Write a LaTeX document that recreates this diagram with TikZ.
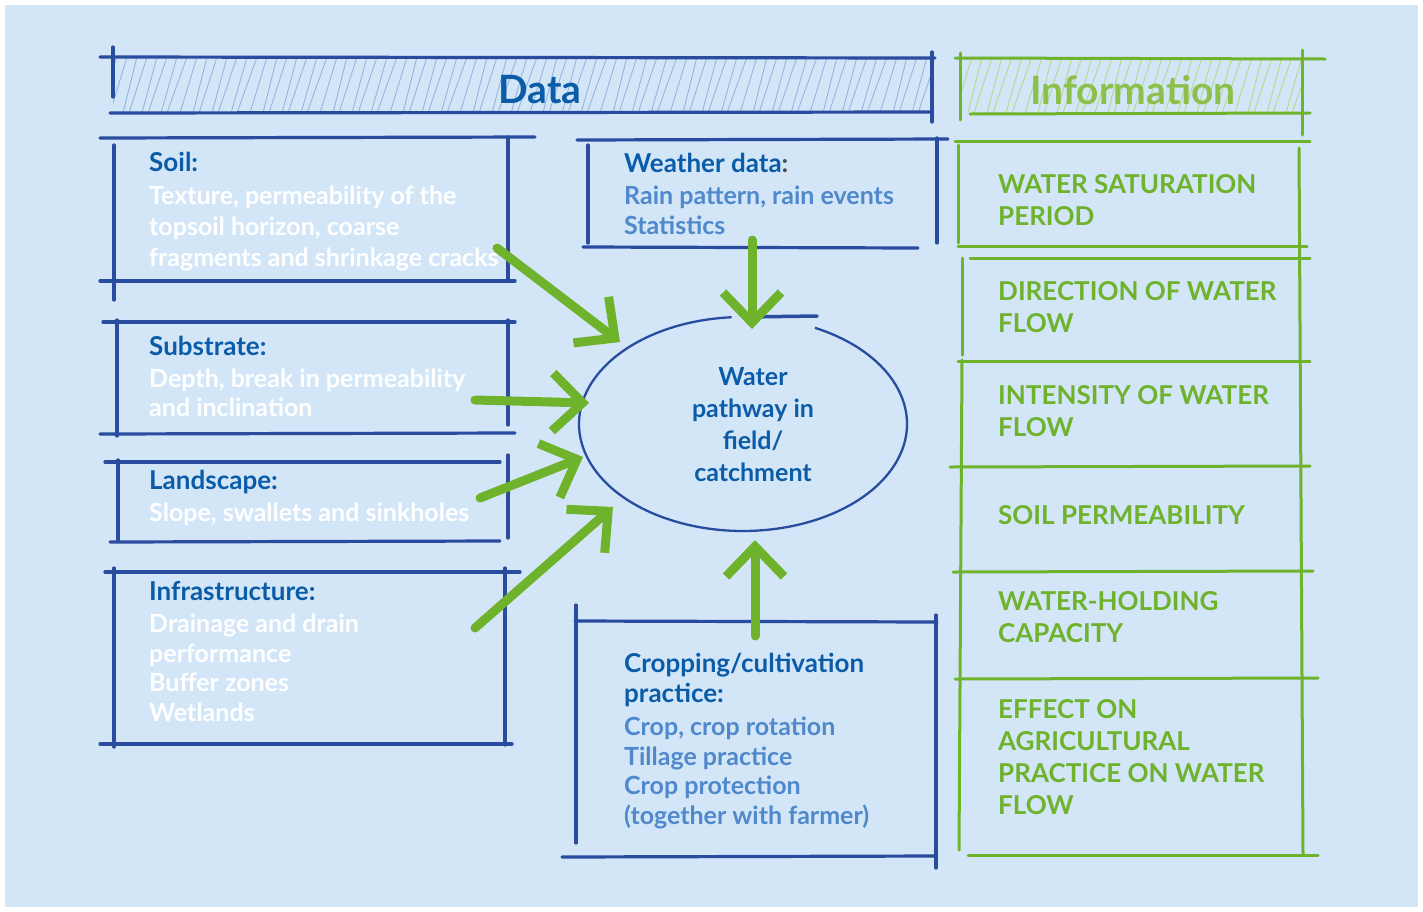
\documentclass[tikz,border=0pt]{standalone}
\usepackage{fontspec}
\setmainfont{Lato}
\usetikzlibrary{arrows.meta,shapes.geometric}
\definecolor{bg}{HTML}{D2E6F8}
\definecolor{dblue}{HTML}{0B5CA8}
\definecolor{lineblue}{HTML}{2A4C9F}
\definecolor{lblue}{HTML}{5088CC}
\definecolor{agreen}{HTML}{6FB22C}
\definecolor{lgreen}{HTML}{8CC04B}
\definecolor{hatchb}{HTML}{98B3E2}
\definecolor{hatchg}{HTML}{B2D98C}
\newcommand{\hd}[1]{{\fontsize{26}{31}\selectfont\color{dblue}#1}}
\newcommand{\bw}[1]{{\color{white}#1}}
\newcommand{\bb}[1]{{\color{lblue}#1}}
\begin{document}
\begin{tikzpicture}[x=1pt,y=-1pt,
  bl/.style={draw=lineblue,line width=3.2pt,line cap=round},
  gl/.style={draw=agreen,line width=3pt,line cap=round},
  ga/.style={draw=agreen,line width=9pt,line cap=round,-{Straight Barb[length=30pt,width=58pt]}},
  boxtext/.style={anchor=north west,inner sep=0pt,align=left,font=\bfseries\fontsize{25}{31}\selectfont},
  infotext/.style={anchor=north west,inner sep=0pt,align=left,text=agreen,font=\bfseries\fontsize{26}{32}\selectfont}]
\useasboundingbox (0,0) rectangle (1423,911);
\fill[white] (0,0) rectangle (1423,911);
\fill[bg] (5,5) rectangle (1418,907);

% ---- Data header
\begin{scope}
\clip (113,59) rectangle (932,111);
\foreach \i in {0,10,...,830} \draw[hatchb,line width=0.9pt] ({97+\i+mod(\i,7)},113) -- ({117+\i+mod(\i,5)},57);
\end{scope}
\draw[bl] (100,57) -- (935,58);
\draw[bl] (113,47) -- (113,97);
\draw[bl] (110,113) -- (932,112);
\draw[bl] (932,52) -- (932,122);
\node[text=dblue,font=\bfseries\fontsize{39}{40}\selectfont] (data) at (540,90) {Data};

% ---- Information header
\begin{scope}
\clip (960,60) rectangle (1302,112);
\foreach \i in {0,10,...,360} \draw[hatchg,line width=0.9pt] ({942+\i+mod(\i,7)},113) -- ({962+\i+mod(\i,5)},57);
\end{scope}
\draw[gl] (955,58) -- (1325,59);
\draw[gl] (960,53) -- (960,120);
\draw[gl] (970,114) -- (1310,113);
\draw[gl] (1302,50) -- (1302,135);
\node[text=lgreen,font=\bfseries\fontsize{39}{40}\selectfont] (info) at (1133,90) {Information};

% ---- Soil box
\draw[bl] (100,138) -- (535,137);
\draw[bl] (114,145) -- (114,300);
\draw[bl] (508,137) -- (508,280);
\draw[bl] (100,281) -- (515,281);
\node[boxtext] (soil) at (149,152) {\hd{Soil:}\\[2pt]
\bw{Texture, permeability of the}\\ \bw{topsoil horizon, coarse}\\ \bw{fragments and shrinkage cracks}};

% ---- Substrate box
\draw[bl] (103,322) -- (515,322);
\draw[bl] (117,320) -- (117,436);
\draw[bl] (508,320) -- (508,425);
\draw[bl] (100,434) -- (515,433);
\node[boxtext,font=\bfseries\fontsize{25}{29}\selectfont] (subs) at (149,336) {\hd{Substrate:}\\[3pt]
\bw{Depth, break in permeability}\\ \bw{and inclination}};

% ---- Landscape box
\draw[bl] (105,462) -- (500,462);
\draw[bl] (118,460) -- (118,540);
\draw[bl] (508,455) -- (508,538);
\draw[bl] (110,542) -- (500,541);
\node[boxtext] (land) at (149,470) {\hd{Landscape:}\\[1pt]
\bw{Slope, swallets and sinkholes}};

% ---- Infrastructure box
\draw[bl] (105,572) -- (520,572);
\draw[bl] (114,568) -- (114,747);
\draw[bl] (505,568) -- (505,745);
\draw[bl] (100,744) -- (512,744);
\node[boxtext,font=\bfseries\fontsize{25}{29.5}\selectfont] (infra) at (149,581) {\hd{Infrastructure:}\\[3pt]
\bw{Drainage and drain}\\ \bw{performance}\\ \bw{Buffer zones}\\ \bw{Wetlands}};

% ---- Weather box
\draw[bl] (577,140) -- (948,139);
\draw[bl] (588,145) -- (588,243);
\draw[bl] (937,138) -- (937,243);
\draw[bl] (583,247) -- (918,248);
\node[boxtext,font=\bfseries\fontsize{25}{30}\selectfont] (weather) at (624,153) {\hd{Weather data}{\fontsize{26}{31}\selectfont\color{black!70}:}\\[2pt]
\bb{Rain pattern, rain events}\\ \bb{Statistics}};

% ---- Crop box
\draw[bl] (575,621) -- (937,622);
\draw[bl] (576,605) -- (576,843);
\draw[bl] (936,615) -- (936,868);
\draw[bl] (562,857) -- (935,856);
\node[boxtext,font=\bfseries\fontsize{25}{29.5}\selectfont] (crop) at (624,653) {{\fontsize{26}{32}\selectfont\color{dblue}Cropping/cultivation}\\
{\fontsize{26}{32}\selectfont\color{dblue}practice:}\\[4pt]
\bb{Crop, crop rotation}\\ \bb{Tillage practice}\\ \bb{Crop protection}\\ \bb{(together with farmer)}};

% ---- Ellipse
\node[ellipse,minimum width=300pt,minimum height=200pt,inner sep=0pt,align=center,text=dblue,
  font=\bfseries\fontsize{25}{32}\selectfont] (ell) at (753,425) {Water\\pathway in\\field/\\catchment};
\draw[lineblue,line width=2.3pt] (814.9,327.8) arc[x radius=164pt,y radius=107pt,start angle=64,end angle=-266];
\draw[lineblue,line width=3.5pt,line cap=round] (745,317) -- (817,316);

% ---- Information column
\draw[gl] (955,141) -- (1310,141);
\draw[gl] (958,145) -- (958,243);
\draw[gl] (958,246) -- (1307,246);
\draw[gl] (1299,148) -- (1303,855);
\draw[gl] (970,258) -- (1310,258);
\draw[gl] (962,258) -- (962,355);
\draw[gl] (962,360) -- (959,850);
\draw[gl] (958,361) -- (1310,361);
\draw[gl] (950,467) -- (1310,466);
\draw[gl] (953,572) -- (1313,571);
\draw[gl] (955,679) -- (1318,678);
\draw[gl] (968,855) -- (1318,855);
\node[infotext] (i1) at (998,174) {WATER SATURATION\\PERIOD};
\node[infotext] (i2) at (998,281) {DIRECTION OF WATER\\FLOW};
\node[infotext] (i3) at (998,385) {INTENSITY OF WATER\\FLOW};
\node[infotext] (i4) at (998,505) {SOIL PERMEABILITY};
\node[infotext] (i5) at (998,591) {WATER-HOLDING\\CAPACITY};
\node[infotext] (i6) at (998,699) {EFFECT ON\\AGRICULTURAL\\PRACTICE ON WATER\\FLOW};

% ---- Arrows
\coordinate (t1) at (497,248); \coordinate (h1) at (620,342);
\coordinate (t2) at (475,400); \coordinate (h2) at (589,403);
\coordinate (t3) at (480,498); \coordinate (h3) at (583,457);
\coordinate (t4) at (475,628); \coordinate (h4) at (613,507);
\coordinate (t5) at (752,240); \coordinate (h5) at (752,329);
\coordinate (t6) at (755,636); \coordinate (h6) at (755,540);
\foreach \k in {1,...,6} \draw[ga] (t\k) -- (h\k);
\end{tikzpicture}
\end{document}
